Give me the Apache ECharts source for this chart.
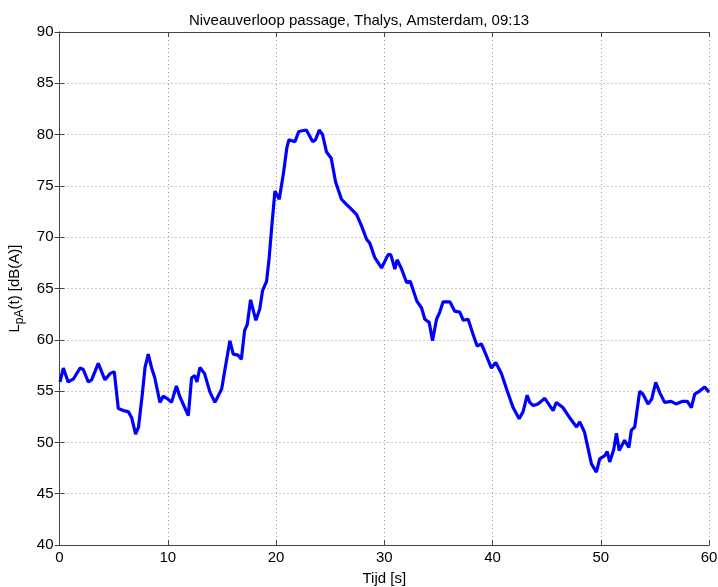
<html>
<head>
<meta charset="utf-8">
<title>Niveauverloop passage</title>
<style>
  html, body { margin: 0; padding: 0; background: #fff; }
  #chart { width: 718px; height: 587px; }
</style>
<script src="https://cdn.jsdelivr.net/npm/echarts@6/dist/echarts.min.js"></script>
</head>
<body>
<div id="chart"></div>
<script>
// time [s] and level [dB(A)]
var times = [0.05, 0.35, 0.8, 1.3, 1.9, 2.2, 2.66, 2.97, 3.58, 3.7, 4.2, 4.66, 5.06, 5.43, 5.9, 6.35, 6.67, 7.03, 7.3, 7.65, 7.9, 8.2, 8.5, 8.8, 9.28, 9.58, 10.05, 10.35, 10.8, 11.1, 11.9, 12.2, 12.5, 12.7, 12.97, 13.4, 13.9, 14.36, 14.98, 15.3, 15.74, 16.05, 16.5, 16.8, 17.1, 17.35, 17.65, 18.14, 18.5, 18.76, 19.13, 19.37, 19.6, 19.9, 20.3, 20.67, 21.0, 21.2, 21.75, 22.1, 22.8, 23.4, 23.65, 24.0, 24.3, 24.67, 25.1, 25.5, 26.05, 26.5, 26.8, 27.45, 27.9, 28.37, 28.67, 29.13, 29.75, 30.36, 30.6, 30.98, 31.19, 31.6, 32.06, 32.4, 33.0, 33.45, 33.75, 34.15, 34.46, 34.83, 35.13, 35.44, 36.06, 36.5, 36.98, 37.3, 37.75, 38.2, 38.58, 38.98, 39.45, 39.9, 40.3, 40.83, 41.3, 41.9, 42.46, 42.83, 43.2, 43.44, 43.75, 44.2, 44.83, 45.6, 45.9, 46.5, 47.2, 47.76, 48.06, 48.5, 49.14, 49.6, 49.9, 50.37, 50.6, 50.83, 51.2, 51.45, 51.7, 52.2, 52.6, 52.83, 53.14, 53.6, 53.9, 54.37, 54.7, 55.08, 55.45, 55.9, 56.5, 56.95, 57.57, 58.0, 58.37, 58.68, 59.14, 59.6, 60.0];
var levels = [55.9, 57.25, 55.9, 56.2, 57.25, 57.1, 55.9, 56.1, 57.7, 57.6, 56.1, 56.7, 56.9, 53.3, 53.1, 53.0, 52.4, 50.8, 51.5, 54.7, 57.3, 58.6, 57.3, 56.3, 53.9, 54.5, 54.2, 53.9, 55.5, 54.5, 52.6, 56.3, 56.5, 55.9, 57.3, 56.7, 54.9, 53.9, 55.2, 57.2, 59.9, 58.6, 58.5, 58.1, 60.9, 61.5, 63.9, 61.9, 63.0, 64.8, 65.7, 68.0, 70.9, 74.5, 73.7, 76.1, 78.7, 79.5, 79.3, 80.3, 80.45, 79.3, 79.5, 80.45, 80.0, 78.3, 77.7, 75.4, 73.7, 73.2, 72.9, 72.2, 71.1, 69.8, 69.4, 68.0, 67.0, 68.3, 68.3, 66.9, 67.8, 66.9, 65.6, 65.7, 63.8, 63.1, 62.0, 61.7, 59.9, 62.0, 62.7, 63.7, 63.7, 62.8, 62.7, 61.9, 62.0, 60.55, 59.4, 59.6, 58.4, 57.25, 57.8, 56.7, 55.2, 53.4, 52.3, 53.0, 54.6, 53.9, 53.6, 53.75, 54.3, 53.1, 53.9, 53.4, 52.3, 51.5, 52.0, 51.0, 47.9, 47.1, 48.4, 48.7, 49.1, 48.1, 49.3, 50.9, 49.2, 50.2, 49.5, 51.2, 51.5, 55.0, 54.7, 53.75, 54.2, 55.85, 54.85, 53.9, 54.0, 53.75, 54.0, 54.0, 53.4, 54.7, 55.0, 55.4, 54.9];

var xTicks = [0, 10, 20, 30, 40, 50, 60];
var yTicks = [40, 45, 50, 55, 60, 65, 70, 75, 80, 85, 90];

var chart = echarts.init(document.getElementById('chart'));

var points = times.map(function (t, i) { return [t, levels[i]]; });
var font = "'Liberation Sans', Arial, sans-serif";
var gridLine = { show: true, lineStyle: { color: '#9a9a9a', type: [1, 3], width: 1 } };
var axisLine = { show: true, lineStyle: { color: '#444', width: 1 } };
var ticks = { show: true, inside: true, length: 5, lineStyle: { color: '#444' } };

chart.setOption({
    animation: false,
    title: {
        text: 'Niveauverloop passage, Thalys, Amsterdam, 09:13',
        left: 'center',
        top: 8,
        textStyle: { fontFamily: font, fontSize: 15, fontWeight: 'normal', color: '#000' }
    },
    grid: { left: 59.5, right: 9, top: 32, bottom: 42, outerBoundsMode: 'none', containLabel: false },
    xAxis: [{
        type: 'value',
        min: xTicks[0], max: xTicks[xTicks.length - 1], interval: 10,
        name: 'Tijd [s]', nameLocation: 'middle', nameGap: 26,
        nameTextStyle: { fontFamily: font, fontSize: 15, color: '#000' },
        axisLine: axisLine, axisTick: ticks, splitLine: gridLine,
        axisLabel: { fontFamily: font, fontSize: 15, color: '#000', margin: 5 }
    }, {
        type: 'value', position: 'top',
        min: xTicks[0], max: xTicks[xTicks.length - 1], interval: 10,
        axisLine: axisLine, axisTick: ticks, splitLine: { show: false },
        axisLabel: { show: false }
    }],
    yAxis: [{
        type: 'value',
        min: yTicks[0], max: yTicks[yTicks.length - 1], interval: 5,
        name: 'L{sub|pA}(t) [dB(A)]', nameLocation: 'middle', nameGap: 32,
        nameTextStyle: {
            fontFamily: font, fontSize: 15, color: '#000',
            rich: { sub: { fontFamily: font, fontSize: 12, color: '#000', padding: [11, 0, 0, 0] } }
        },
        axisLine: axisLine, axisTick: ticks, splitLine: gridLine,
        axisLabel: { fontFamily: font, fontSize: 15, color: '#000', margin: 6 }
    }, {
        type: 'value', position: 'right',
        min: yTicks[0], max: yTicks[yTicks.length - 1], interval: 5,
        axisLine: axisLine, axisTick: ticks, splitLine: { show: false },
        axisLabel: { show: false }
    }],
    series: [{
        type: 'line',
        data: points,
        showSymbol: false,
        smooth: false,
        lineStyle: { color: '#0000ff', width: 3.2 },
        itemStyle: { color: '#0000ff' }
    }]
});
</script>
</body>
</html>
